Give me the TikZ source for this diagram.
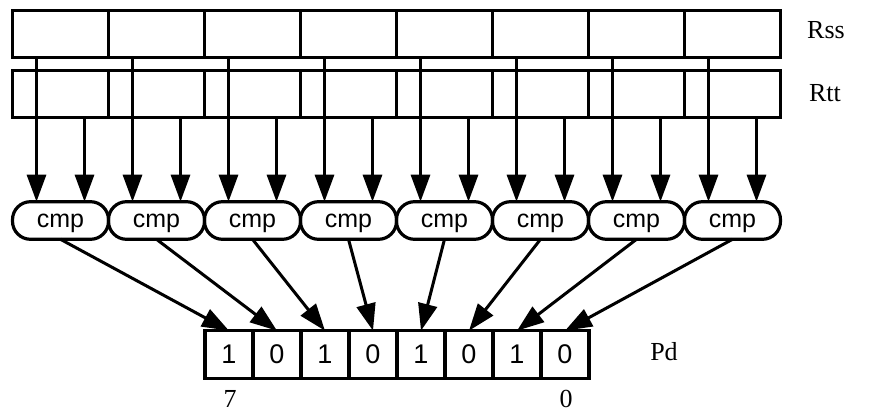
\documentclass[tikz,border=0pt]{standalone}
\usepackage{fontspec}
\setmainfont{Liberation Serif}
\newfontfamily\arialf{Liberation Sans}
\usetikzlibrary{arrows.meta}
\begin{document}
\begin{tikzpicture}[x=1pt,y=-1pt,
  reg/.style={draw,line width=3.2pt,minimum width=96pt,minimum height=47pt,inner sep=0pt,outer sep=0pt},
  cmpbox/.style={draw,line width=3.2pt,rounded corners=18pt,minimum width=96pt,minimum height=37.6pt,inner sep=0pt,outer sep=0pt,text depth=0pt,font=\arialf\fontsize{25}{29}\selectfont},
  bit/.style={draw,line width=3.2pt,minimum width=48pt,minimum height=48pt,inner sep=0pt,outer sep=0pt,font=\arialf\fontsize{27}{31}\selectfont},
  lbl/.style={font=\fontsize{26}{31}\selectfont,inner sep=0pt},
  arr/.style={line width=3pt,-{Triangle[length=27pt,width=19pt]}}]
\useasboundingbox (0,0) rectangle (873,411);
\foreach \i in {1,...,8}{
  \pgfmathsetmacro\cx{12.5+96*\i-48}
  \node[reg] (s\i) at (\cx,34.2) {};
  \node[reg] (t\i) at (\cx,94.2) {};
  \node[cmpbox] (c\i) at (\cx,220.5) {cmp};
}
\foreach \i/\v in {1/1,2/0,3/1,4/0,5/1,6/0,7/1,8/0}{
  \pgfmathsetmacro\px{181+48*\i}
  \node[bit] (p\i) at (\px,354.7) {\v};
}
\foreach \i in {1,...,8}{
  \draw[arr] ([xshift=-24pt]s\i.south) -- ([xshift=-24pt]c\i.north);
  \draw[arr] ([xshift=24pt]t\i.south) -- ([xshift=24pt]c\i.north);
  \draw[arr] (c\i.south) -- (p\i.north);
}
\node[lbl] (rss) at (826,30) {Rss};
\node[lbl] (rtt) at (825,93) {Rtt};
\node[lbl] (pd) at (664,352) {Pd};
\node[lbl] (b7) at (230,399) {7};
\node[lbl] (b0) at (566,399) {0};
\end{tikzpicture}
\end{document}
